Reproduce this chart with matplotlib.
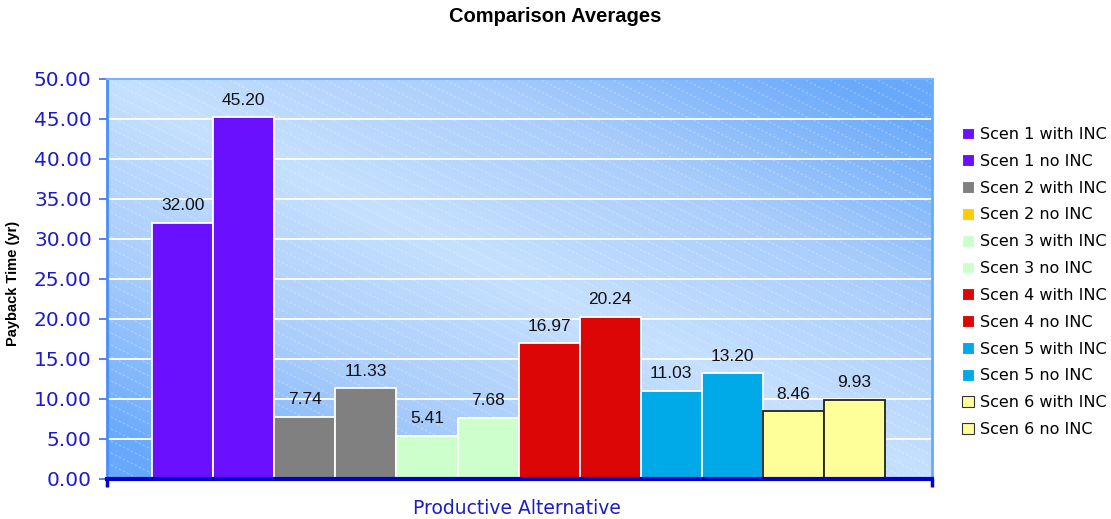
import numpy as np
import matplotlib
matplotlib.use("Agg")
import matplotlib.pyplot as plt
from matplotlib.patches import Patch
from matplotlib.colors import LinearSegmentedColormap

# data
series = ["Scen 1 with INC", "Scen 1 no INC", "Scen 2 with INC", "Scen 2 no INC",
          "Scen 3 with INC", "Scen 3 no INC", "Scen 4 with INC", "Scen 4 no INC",
          "Scen 5 with INC", "Scen 5 no INC", "Scen 6 with INC", "Scen 6 no INC"]
values = [32.00, 45.20, 7.74, 11.33, 5.41, 7.68, 16.97, 20.24, 11.03, 13.20, 8.46, 9.93]
bar_colors = ["#6a10ff", "#6a10ff", "#808080", "#808080", "#ccffcc", "#ccffcc",
              "#dd0606", "#dd0606", "#00aae8", "#00aae8", "#ffff99", "#ffff99"]
legend_colors = ["#6a10ff", "#6a10ff", "#808080", "#ffcc00", "#ccffcc", "#ccffcc",
                 "#dd0606", "#dd0606", "#00aae8", "#00aae8", "#ffff99", "#ffff99"]
edge_colors = ["white"] * 10 + ["#222222", "#222222"]
yticks = [0, 5, 10, 15, 20, 25, 30, 35, 40, 45, 50]

fig = plt.figure(figsize=(11.11, 5.19), dpi=100)
ax = fig.add_axes([107 / 1111, 40 / 519, 825 / 1111, 400 / 519])

x = np.arange(len(values))
ax.set_xlim(-1.24, len(values) - 1 + 1.27)
ax.set_ylim(0, 50)

# gradient background (light band along the diagonal, darker corners)
uu, vv = np.meshgrid(np.linspace(0, 1, 300), np.linspace(0, 1, 200))
t = np.abs(uu + vv - 1.0)
cmap = LinearSegmentedColormap.from_list("bg", ["#c6e0ff", "#a9cdfc", "#68a9fb"])
ax.imshow(t, extent=[0, 1, 0, 1], transform=ax.transAxes, origin="lower",
          cmap=cmap, vmin=0, vmax=0.9, aspect="auto", zorder=0)

# faint diagonal stripes
for c in np.arange(-420, 400, 12):
    xs = np.array([0, 825])
    ys = c + 0.5 * xs
    ax.plot(xs / 825, 1 - ys / 400, transform=ax.transAxes, color="white",
            alpha=0.3, lw=0.8, ls=(0, (2, 2)), zorder=0.5)

ax.yaxis.grid(True, color="white", lw=1.3, zorder=1)
ax.set_axisbelow(True)

bars = ax.bar(x, values, width=1.0, color=bar_colors, edgecolor=edge_colors,
              linewidth=1.3, zorder=2)
for xi, v in zip(x, values):
    ax.annotate(f"{v:.2f}", (xi, v), xytext=(0, 7), textcoords="offset points",
                ha="center", va="bottom", fontsize=12.5, family="Liberation Sans",
                color="#111111", zorder=3)

ax.set_yticks(yticks)
ax.set_yticklabels([f"{v:.2f}" for v in yticks])
ax.tick_params(axis="y", colors="#4466ee", labelcolor="#1c1ccc", labelsize=14.5,
               length=6, width=1.2, pad=5)
ax.set_xticks([ax.get_xlim()[0], ax.get_xlim()[1]])
ax.set_xticklabels(["", ""])
ax.tick_params(axis="x", colors="#0000cc", length=6, width=2.5)

ax.spines["left"].set_color("#4a8cff")
ax.spines["left"].set_linewidth(2)
ax.spines["right"].set_color("#66aaff")
ax.spines["right"].set_linewidth(2)
ax.spines["top"].set_color("#77b3ff")
ax.spines["top"].set_linewidth(1.5)
ax.spines["bottom"].set_color("#0000cc")
ax.spines["bottom"].set_linewidth(3)

fig.text(517 / 1111, 1 - 509 / 519, "Productive Alternative", ha="center", va="center",
         fontsize=13.5, color="#1c1ccc")
fig.text(13 / 1111, 1 - 283 / 519, "Payback Time (yr)", rotation=90, ha="center",
         va="center", fontsize=10.5, fontweight="bold", family="Liberation Sans")
fig.text(0.5, 1 - 17 / 519, "Comparison Averages", ha="center", va="center",
         fontsize=14.5, fontweight="bold", family="Liberation Sans")

handles = [Patch(facecolor=c, edgecolor=("#333333" if i >= 10 else "white"), lw=0.8)
           for i, c in enumerate(legend_colors)]
fig.legend(handles, series, loc="upper left", bbox_to_anchor=(962 / 1111, 1 - 127 / 519),
           frameon=False, fontsize=11.5, handlelength=0.75, handleheight=0.75,
           handletextpad=0.4, labelspacing=0.74, borderpad=0, borderaxespad=0)

fig.savefig("out.png", dpi=100)
